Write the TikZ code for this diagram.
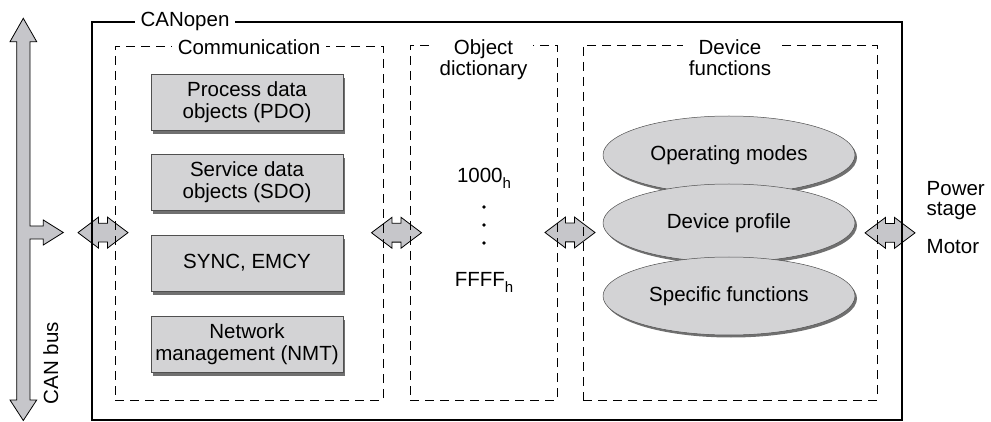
\documentclass[tikz,border=0pt]{standalone}
\usepackage{fontspec}
\setmainfont{Liberation Sans}
\usetikzlibrary{calc}
\usetikzlibrary{shapes.arrows,shapes.geometric}
\usetikzlibrary{shadows}
\pgfdeclarelayer{back}
\pgfsetlayers{back,main}
\definecolor{boxgray}{RGB}{211,211,213}
\definecolor{arrowgray}{RGB}{198,198,202}
\definecolor{edgegray}{RGB}{80,80,80}
\definecolor{shadegray}{RGB}{112,112,112}
\newcommand{\hexsub}{\raisebox{-6pt}{\fontsize{15}{15}\selectfont h}}

\begin{document}
\begin{tikzpicture}[x=1pt,y=-1pt,
  font=\fontsize{20.5}{22}\selectfont,
  frame/.style={draw,dashed,dash pattern=on 9pt off 6pt,line width=0.9pt,inner sep=0pt,outer sep=0pt},
  title/.style={fill=white,inner xsep=6pt,inner ysep=1pt,align=center,font=\fontsize{20.5}{21}\selectfont},
  unit/.style={draw=edgegray,line width=0.6pt,fill=boxgray,minimum width=192pt,minimum height=56pt,align=center,inner sep=0pt,
    drop shadow={shadow xshift=1.5pt,shadow yshift=-4pt,fill=shadegray,opacity=1}},
  func/.style={ellipse,draw=edgegray,line width=0.5pt,fill=boxgray,minimum width=252pt,minimum height=78pt,inner sep=0pt,
    drop shadow={shadow xshift=2pt,shadow yshift=-2.5pt,fill=shadegray,opacity=1}},
  link/.style={double arrow,draw,line width=0.8pt,fill=arrowgray,minimum height=50pt,minimum width=30pt,
    inner xsep=0pt,inner ysep=9pt,double arrow head extend=6pt,double arrow tip angle=74}]
  \useasboundingbox (0,0) rectangle (991,422);

  % frames
  \node[draw,line width=2pt,minimum width=810pt,minimum height=397.5pt,inner sep=0pt] (canopen) at (497,221.25) {};
  \node[frame,minimum width=268pt,minimum height=354pt] (comm) at (249,223) {};
  \node[frame,minimum width=147pt,minimum height=355pt] (od) at (483.5,222.5) {};
  \node[frame,minimum width=294pt,minimum height=355pt] (dev) at (730,222.5) {};

  \node[title] (canopentitle) at (185,21.5) {CANopen};
  \node[title] (commtitle) at ([yshift=-1.5pt]comm.north) {Communication};
  \node[title,anchor=north] (odtitle) at ([yshift=7pt]od.north) {Object\\dictionary};
  \node[title,anchor=north] (devtitle) at ([yshift=7pt]dev.north) {Device\\functions};

  % communication objects
  \node[unit] (pdo) at (247,102) {Process data\\objects (PDO)};
  \node[unit] (sdo) at (247,182.5) {Service data\\objects (SDO)};
  \node[unit] (sync) at (247,263) {SYNC, EMCY};
  \node[unit] (nmt) at (247,344) {Network\\management (NMT)};

  % object dictionary
  \node[anchor=base] (first) at (484,183) {1000\hexsub};
  \foreach \y in {207,225,243}
    \fill (484,\y) circle (1.8pt);
  \node[anchor=base] (last) at (484,287) {FFFF\hexsub};

  % device functions
  \node[func] (modes) at (729,155) {Operating modes};
  \node[func] (profile) at (729,223) {Device profile};
  \node[func] (spec) at (729,296) {Specific functions};

  % outside
  \node[anchor=north west,align=left,inner sep=0pt,font=\fontsize{20.5}{19.5}\selectfont] (power) at (926.5,181.5) {Power\\stage};
  \node[anchor=base west,inner sep=0pt] (motor) at (926.5,254) {Motor};
  \node[rotate=90] (busname) at (50.8,363) {CAN bus};

  \begin{pgfonlayer}{back}
    % bus
    \draw[line width=0.8pt,fill=arrowgray] (23.3,18.3) -- (36.7,41.7) -- (30,41.7) -- (30,226)
      -- (43.3,226) -- (43.3,220) -- (63.3,232.5) -- (43.3,245) -- (43.3,239) -- (30,239)
      -- (30,400) -- (36.7,400) -- (23.3,420.5) -- (10,400) -- (16.7,400) -- (16.7,41.7)
      -- (10,41.7) -- cycle;
    % links
    \node[link] (l1) at ($(canopen.west)!.5!(comm.west)+(0,10.5)$) {};
    \node[link] (l2) at ($(comm.east)!.5!(od.west)+(0,10)$) {};
    \node[link] (l3) at ($(od.east)!.5!(dev.west)+(0,10)$) {};
    \node[link] (l4) at ($(dev.east)!.5!(canopen.east)+(0,11)$) {};
  \end{pgfonlayer}
\end{tikzpicture}
\end{document}
